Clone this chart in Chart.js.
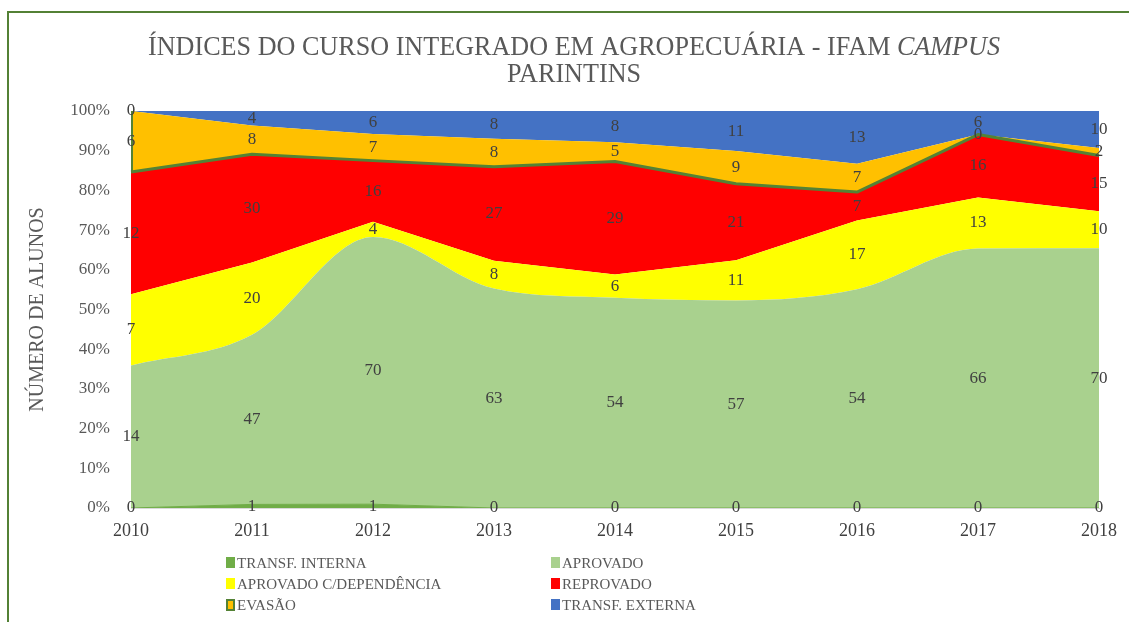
<!DOCTYPE html>
<html><head><meta charset="utf-8">
<script src="https://cdn.jsdelivr.net/npm/chart.js@4.4.1/dist/chart.umd.min.js"></script>
<style>
html,body{margin:0;padding:0;background:#fff;overflow:hidden;}
#wrap{position:relative;width:1129px;height:622px;overflow:hidden;}
#frame{position:absolute;left:7px;top:11px;width:1200px;height:700px;border-left:2px solid #538135;border-top:2px solid #538135;pointer-events:none;}
canvas{display:block;}
</style></head><body>
<div id="wrap"><canvas id="c" width="1129" height="622"></canvas><div id="frame"></div></div>
<script>
// ---- data ----
const years = ['2010','2011','2012','2013','2014','2015','2016','2017','2018'];
const seriesNames = ['TRANSF. INTERNA','APROVADO','APROVADO C/DEPENDÊNCIA','REPROVADO','EVASÃO','TRANSF. EXTERNA'];
const transfInterna = [0,1,1,0,0,0,0,0,0];
const aprovado      = [14,47,70,63,54,57,54,66,70];
const aprovadoDep   = [7,20,4,8,6,11,17,13,10];
const reprovado     = [12,30,16,27,29,21,7,16,15];
const evasao        = [6,8,7,8,5,9,7,0,2];
const transfExterna = [0,4,6,8,8,11,13,6,10];
const yTickValues   = [0,10,20,30,40,50,60,70,80,90,100];
const titleLine1    = 'ÍNDICES DO CURSO INTEGRADO EM AGROPECUÁRIA - IFAM ';
const titleItalic   = 'CAMPUS';
const titleLine2    = 'PARINTINS';
const yTitle        = 'NÚMERO DE ALUNOS';

// ---- styles ----
const colors = ['#70AD47','#A9D18E','#FFFF00','#FF0000','#FFC000','#4472C4'];
const rawSeries = [transfInterna, aprovado, aprovadoDep, reprovado, evasao, transfExterna];
const totals = years.map((_, j) => rawSeries.reduce((s, a) => s + a[j], 0));
const pct = rawSeries.map(a => a.map((v, j) => v / totals[j] * 100));
const SERIF = '"Liberation Serif", "Times New Roman", serif';

const datasets = rawSeries.map((arr, i) => ({
  label: seriesNames[i],
  data: pct[i],
  counts: arr,
  backgroundColor: colors[i],
  borderColor: i === 0 ? '#70AD47' : (i === 3 ? '#548235' : colors[i]),
  borderWidth: i === 0 ? 1 : (i === 3 ? 3 : 0),
  fill: i === 0 ? 'origin' : '-1',
  pointRadius: 0,
  cubicInterpolationMode: i === 1 ? 'monotone' : 'default',
  tension: 0
}));

const bandLabels = {
  id: 'bandLabels',
  afterDatasetsDraw(chart) {
    const {ctx, scales: {x, y}} = chart;
    ctx.save();
    // evasão outline on the left edge (first category)
    const ds = chart.data.datasets;
    const lowE = ds.slice(0, 4).reduce((s, d) => s + d.data[0], 0);
    const highE = lowE + ds[4].data[0];
    ctx.strokeStyle = '#548235';
    ctx.lineWidth = 2;
    ctx.beginPath();
    ctx.moveTo(x.getPixelForValue(0) + 1, y.getPixelForValue(lowE));
    ctx.lineTo(x.getPixelForValue(0) + 1, y.getPixelForValue(highE));
    ctx.stroke();

    ctx.font = '17px ' + SERIF;
    ctx.fillStyle = '#404040';
    ctx.textAlign = 'center';
    ctx.textBaseline = 'middle';
    const base = years.map(() => 0);
    ds.forEach(d => {
      d.data.forEach((p, j) => {
        const mid = base[j] + p / 2;
        ctx.fillText(String(d.counts[j]), x.getPixelForValue(j), y.getPixelForValue(mid));
        base[j] += p;
      });
    });
    ctx.restore();
  }
};

const titlePlugin = {
  id: 'mixedTitle',
  afterDraw(chart) {
    const ctx = chart.ctx;
    const cx = 574;
    ctx.save();
    ctx.fillStyle = '#595959';
    ctx.textBaseline = 'alphabetic';
    ctx.textAlign = 'left';
    const fN = '27px ' + SERIF, fI = 'italic 27px ' + SERIF;
    ctx.font = fN; const w1 = ctx.measureText(titleLine1).width;
    ctx.font = fI; const w2 = ctx.measureText(titleItalic).width;
    const sx = 852 / (w1 + w2);
    ctx.translate(cx, 0);
    ctx.scale(sx, 1);
    const x0 = -(w1 + w2) / 2;
    ctx.font = fN; ctx.fillText(titleLine1, x0, 55);
    ctx.font = fI; ctx.fillText(titleItalic, x0 + w1, 55);
    ctx.font = fN; ctx.textAlign = 'center';
    ctx.fillText(titleLine2, 0, 82);
    ctx.restore();
  }
};

const legendPlugin = {
  id: 'gridLegend',
  afterDraw(chart) {
    const ctx = chart.ctx;
    const colX = [226, 551];
    const rowY = [563, 584, 605];
    ctx.save();
    ctx.font = '15px ' + SERIF;
    ctx.textBaseline = 'middle';
    ctx.textAlign = 'left';
    chart.data.datasets.forEach((ds, i) => {
      const x = colX[i % 2], y = rowY[Math.floor(i / 2)];
      if (i === 4) {
        ctx.fillStyle = '#548235';
        ctx.fillRect(x, y - 6, 9, 12);
        ctx.fillStyle = ds.backgroundColor;
        ctx.fillRect(x + 2, y - 4, 5, 8);
      } else {
        ctx.fillStyle = ds.backgroundColor;
        ctx.fillRect(x, y - 6, 9, 11);
      }
      ctx.fillStyle = '#595959';
      ctx.fillText(ds.label, x + 11, y + 1);
    });
    ctx.restore();
  }
};

new Chart(document.getElementById('c'), {
  type: 'line',
  data: { labels: years, datasets },
  plugins: [bandLabels, titlePlugin, legendPlugin],
  options: {
    responsive: false,
    animation: false,
    devicePixelRatio: 1,
    layout: { padding: { top: 111, right: 30, bottom: 74, left: 0 } },
    plugins: { legend: { display: false }, title: { display: false }, tooltip: { enabled: false } },
    elements: { line: { borderJoinStyle: 'round' } },
    scales: {
      x: {
        ticks: { color: '#404040', font: { family: SERIF, size: 18 }, padding: 12, maxRotation: 0, autoSkip: false },
        grid: { display: false, drawTicks: false },
        border: { display: true, color: '#d9d9d9' },
        afterFit(scale) { scale.height = 40; }
      },
      y: {
        stacked: true, min: 0, max: 100,
        afterBuildTicks(scale) { scale.ticks = yTickValues.map(v => ({ value: v })); },
        ticks: { color: '#595959', font: { family: SERIF, size: 17 }, padding: 21, callback: v => v + '%' },
        grid: { display: false, drawTicks: false },
        border: { display: false },
        title: { display: true, text: yTitle, color: '#595959', font: { family: SERIF, size: 20 }, padding: { top: 26, bottom: 0 } },
        afterFit(scale) { scale.width = 131; }
      }
    }
  }
});
</script>
</body></html>
